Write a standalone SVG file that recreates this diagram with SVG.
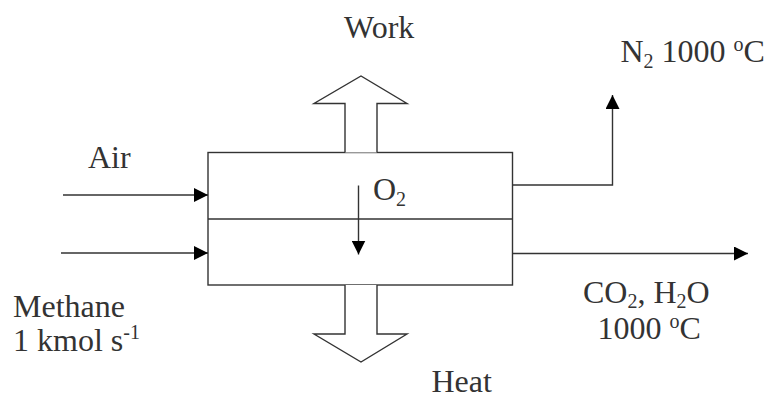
<svg xmlns="http://www.w3.org/2000/svg" width="765" height="399" viewBox="0 0 765 399">
<style>
.ln{fill:none;stroke:#333;stroke-width:1.4}
.blk{fill:#fff;stroke:#333;stroke-width:1.4}
.t{font-family:"Liberation Serif","Times New Roman",serif;font-size:32px;fill:#333}
.s{font-size:20px}
</style>
<defs>
<marker id="ah" viewBox="0 0 14 14" refX="14" refY="7" markerWidth="14" markerHeight="14" markerUnits="userSpaceOnUse" orient="auto">
<path d="M0,0 L14,7 L0,14 Z" fill="#000"/>
</marker>
</defs>
<rect width="765" height="399" fill="#fff"/>
<g id="reactor">
<rect class="ln" x="208" y="152.5" width="304.5" height="132.5"/>
<line class="ln" x1="208" y1="219" x2="512.5" y2="219"/>
</g>
<g id="work">
<polyline class="blk" points="345,152.5 345,103.5 314,103.5 361,76 407,103.5 377,103.5 377,152.5"/>
<text class="t" x="344" y="37.5">Work</text>
</g>
<g id="heat">
<polyline class="blk" points="345,285 345,334 314,334 361,362 407,334 377,334 377,285"/>
<text class="t" x="431.5" y="392">Heat</text>
</g>
<g id="connectors">
<line class="ln" x1="63" y1="195" x2="208" y2="195" marker-end="url(#ah)"/>
<line class="ln" x1="61" y1="253" x2="208" y2="253" marker-end="url(#ah)"/>
<line class="ln" x1="358.5" y1="185.5" x2="358.5" y2="254.5" marker-end="url(#ah)"/>
<polyline class="ln" points="512.5,185 612.5,185 612.5,95" marker-end="url(#ah)"/>
<line class="ln" x1="512.5" y1="253.5" x2="748" y2="253.5" marker-end="url(#ah)"/>
</g>
<g id="labels">
<text class="t" x="88" y="167.5">Air</text>
<text class="t" x="13" y="317">Methane</text>
<text class="t" x="13" y="351">1 kmol s<tspan class="s" dy="-12">-1</tspan></text>
<text class="t" x="373" y="200">O<tspan class="s" dy="6">2</tspan></text>
<text class="t" x="620.5" y="61.5">N<tspan class="s" dy="6">2</tspan><tspan dy="-6"> 1000 </tspan><tspan class="s" dy="-11">o</tspan><tspan dy="11">C</tspan></text>
<text class="t" x="583" y="302.5">CO<tspan class="s" dy="5">2</tspan><tspan dy="-5">, H</tspan><tspan class="s" dy="5">2</tspan><tspan dy="-5">O</tspan></text>
<text class="t" x="597.5" y="339">1000 <tspan class="s" dy="-11">o</tspan><tspan dy="11">C</tspan></text>
</g>
</svg>
